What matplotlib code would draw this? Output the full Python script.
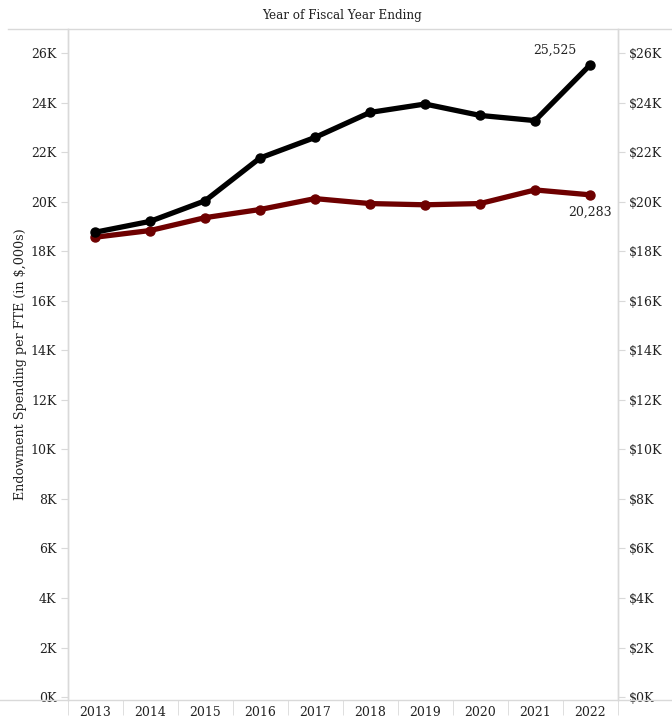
import matplotlib
matplotlib.use("Agg")
import matplotlib.pyplot as plt
from matplotlib.lines import Line2D
from matplotlib.ticker import FuncFormatter, FixedLocator

years = [2013, 2014, 2015, 2016, 2017, 2018, 2019, 2020, 2021, 2022]
black_vals = [18770, 19210, 20040, 21770, 22600, 23610, 23950, 23490, 23280, 25525]
red_vals = [18570, 18840, 19360, 19690, 20130, 19930, 19880, 19930, 20480, 20283]

BLACK, RED = "#000000", "#6e0000"
GRID = "#d9d9d9"
INK = "#222222"
FONT = "DejaVu Serif"

plt.rcParams.update({"font.family": FONT, "font.size": 9})

W, H = 672, 719
fig = plt.figure(figsize=(W / 100, H / 100), dpi=100)
ax = fig.add_axes([67.5 / W, (H - 700) / H, 550 / W, (700 - 29) / H])

x = list(range(len(years)))
ax.plot(x, black_vals, color=BLACK, lw=3.8, marker="o", ms=6.5,
        solid_capstyle="round", solid_joinstyle="round", zorder=3)
ax.plot(x, red_vals, color=RED, lw=3.8, marker="o", ms=6.5,
        solid_capstyle="round", solid_joinstyle="round", zorder=2)

ax.set_xlim(-0.5, len(years) - 0.5)
ax.set_ylim(-120, 26980)

yt = list(range(0, 26001, 2000))
ax.set_yticks(yt)
ax.yaxis.set_major_formatter(FuncFormatter(lambda v, p: f"{v/1000:.0f}K"))
ax.tick_params(axis="y", length=5, color=GRID, labelcolor=INK, labelsize=9, pad=3)

# twin axis on the right with $ labels
axr = ax.twinx()
axr.set_ylim(ax.get_ylim())
axr.set_yticks(yt)
axr.yaxis.set_major_formatter(FuncFormatter(lambda v, p: f"${v/1000:.0f}K"))
axr.tick_params(axis="y", length=5, color=GRID, labelcolor=INK, labelsize=9, pad=3)

ax.set_xticks(x)
ax.set_xticklabels([str(y) for y in years])
ax.xaxis.set_minor_locator(FixedLocator([i - 0.5 for i in range(len(years) + 1)]))
ax.tick_params(axis="x", which="major", length=0, pad=4, labelcolor=INK, labelsize=9)
ax.tick_params(axis="x", which="minor", length=11, color=GRID)

for a in (ax, axr):
    for sp in ("top", "bottom"):
        a.spines[sp].set_visible(False)
    for sp in ("left", "right"):
        a.spines[sp].set_color(GRID)
        a.spines[sp].set_linewidth(1)

ax.set_ylabel("Endowment Spending per FTE (in $,000s)", fontsize=9.2, color=INK, labelpad=3)

# value labels at the last point
ax.annotate(f"{black_vals[-1]:,}", (x[-1], black_vals[-1]), xytext=(-25, 6),
            textcoords="offset points", ha="center", va="bottom", fontsize=9, color=INK)
ax.annotate(f"{red_vals[-1]:,}", (x[-1], red_vals[-1]), xytext=(0, -8),
            textcoords="offset points", ha="center", va="top", fontsize=9, color=INK)

# header and bottom rules spanning the figure
fig.add_artist(Line2D([8 / W, 1], [(H - 29) / H] * 2, color=GRID, lw=1))
fig.add_artist(Line2D([0, 1], [(H - 700) / H] * 2, color=GRID, lw=1))
fig.text(342 / W, (H - 15) / H, "Year of Fiscal Year Ending", ha="center", va="center",
         fontsize=8.6, color=INK)

fig.savefig("out.png", dpi=100, facecolor="white")
